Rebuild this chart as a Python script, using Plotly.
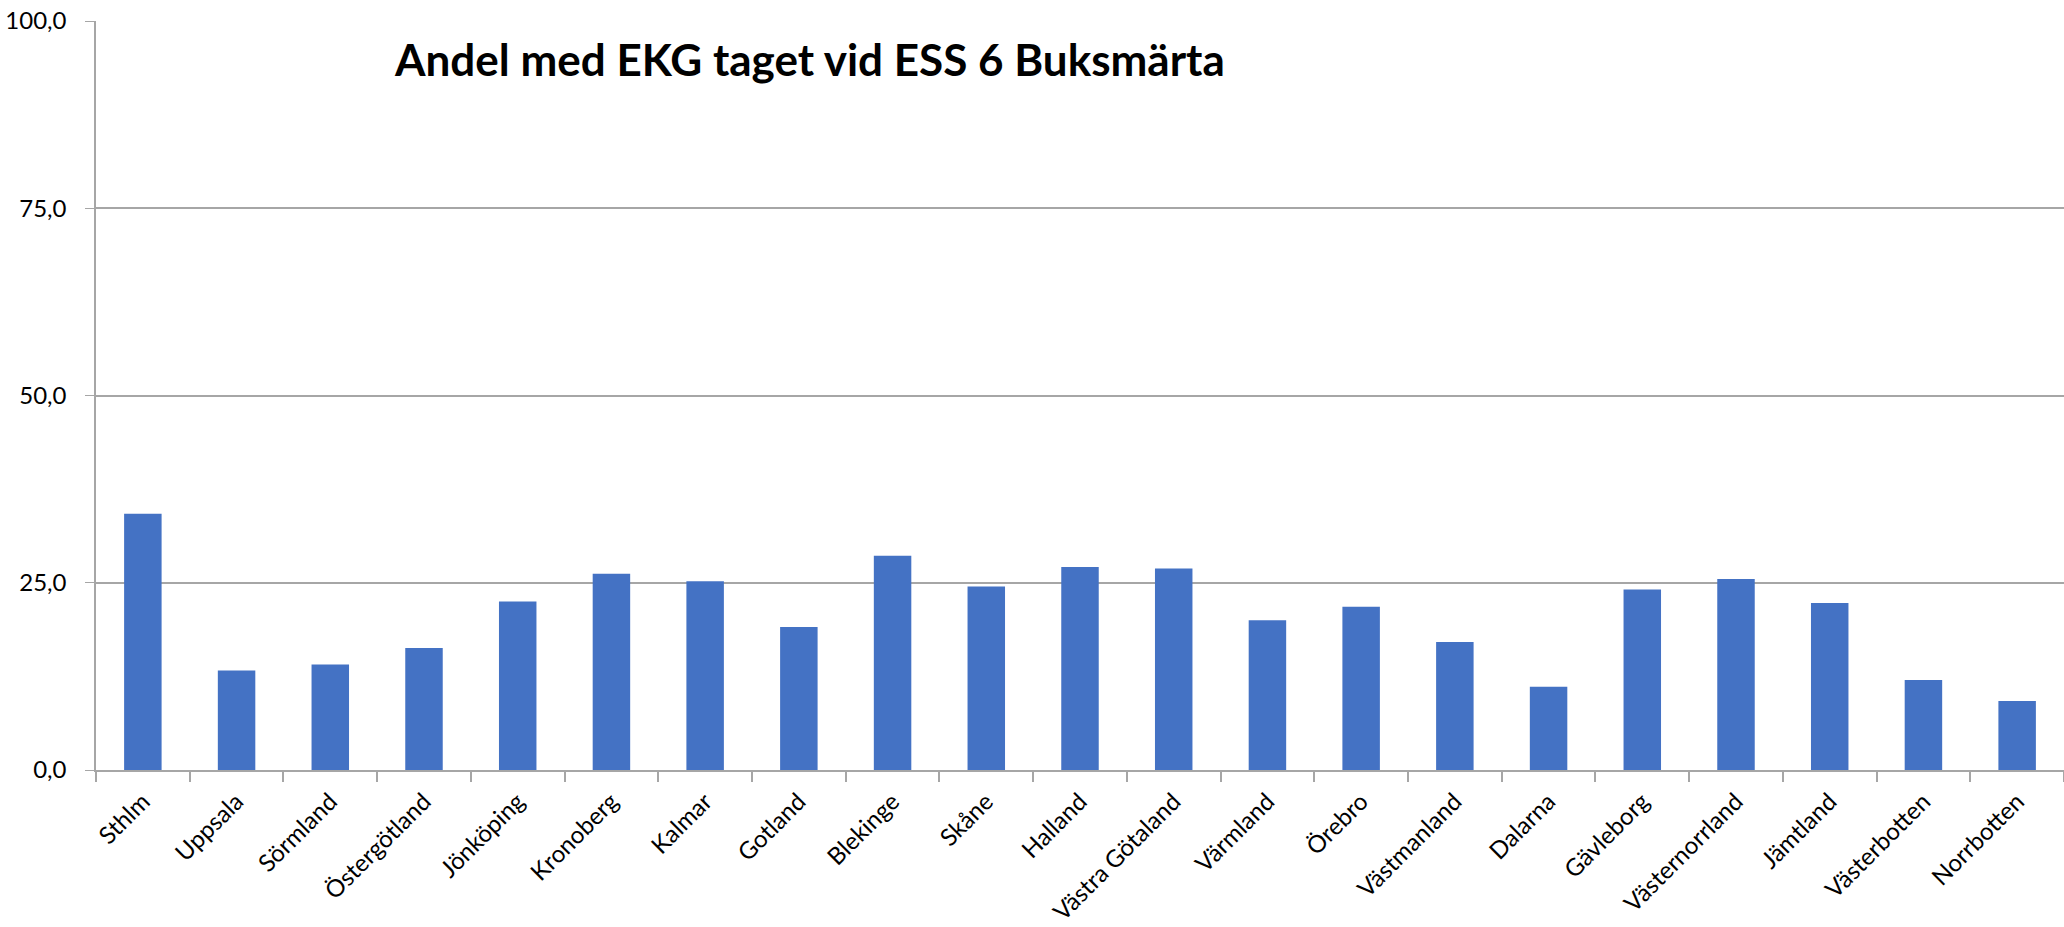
import plotly.graph_objects as go

# ── Data ────────────────────────────────────────────────────────────────
regions = [
    "Sthlm", "Uppsala", "Sörmland", "Östergötland", "Jönköping", "Kronoberg",
    "Kalmar", "Gotland", "Blekinge", "Skåne", "Halland", "Västra Götaland",
    "Värmland", "Örebro", "Västmanland", "Dalarna", "Gävleborg",
    "Västernorrland", "Jämtland", "Västerbotten", "Norrbotten",
]
andel_ekg = [
    34.2, 13.3, 14.1, 16.3, 22.5, 26.2, 25.2, 19.1, 28.6, 24.5, 27.1,
    26.9, 20.0, 21.8, 17.1, 11.1, 24.1, 25.5, 22.3, 12.0, 9.2,
]
y_ticks = [0, 25, 50, 75, 100]
y_tick_labels = ["0,0", "25,0", "50,0", "75,0", "100,0"]

TITLE = "Andel med EKG taget vid ESS 6 Buksmärta"
BAR_BLUE = "#4472c4"
GRID = "#a6a6a6"
FONT = "Lato"

fig = go.Figure()
fig.add_trace(go.Bar(
    x=regions, y=andel_ekg,
    marker=dict(color=BAR_BLUE, line=dict(width=0)),
    hovertemplate="%{x}: %{y:.1f}<extra></extra>",
))

# title sits inside the plot area, left of centre
fig.add_annotation(
    text=f"<b>{TITLE}</b>",
    xref="paper", yref="paper",
    x=0.1504, y=0.949,
    xanchor="left", yanchor="middle",
    showarrow=False,
    font=dict(family=FONT, size=44, color="black"),
)

fig.update_layout(
    width=2064, height=927,
    margin=dict(l=96, r=0, t=21, b=157),
    paper_bgcolor="white",
    plot_bgcolor="white",
    bargap=0.6,
    showlegend=False,
    font=dict(family=FONT, size=24, color="black"),
    xaxis=dict(
        automargin=False,
        tickangle=-45,
        showline=True, linecolor=GRID, linewidth=2,
        ticks="outside", tickson="boundaries", ticklen=10,
        tickcolor=GRID, tickwidth=1.5,
        showgrid=False,
        ticklabelstandoff=6,
        tickfont=dict(family=FONT, size=24, color="black"),
    ),
    yaxis=dict(
        automargin=False,
        range=[0, 100],
        tickvals=y_ticks, ticktext=y_tick_labels,
        showline=True, linecolor=GRID, linewidth=1.5,
        ticks="outside", ticklen=9, tickcolor=GRID,
        showgrid=True, gridcolor=GRID, gridwidth=1.5,
        zeroline=False,
        ticklabelstandoff=14,
        tickfont=dict(family=FONT, size=24, color="black"),
    ),
)

# drop the browser's default body margin so the figure fills the window
fig.write_html(
    "out.html",
    config={"displayModeBar": False},
    post_script="document.body.style.margin='0';",
)
